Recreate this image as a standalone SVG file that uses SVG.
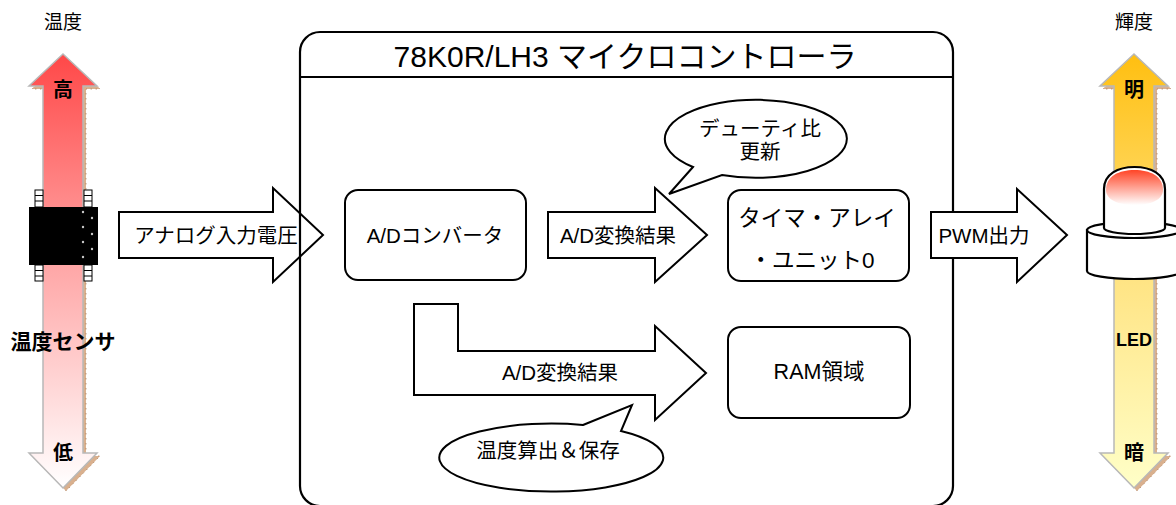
<svg xmlns="http://www.w3.org/2000/svg" width="1176" height="505" viewBox="0 0 1176 505">
  <defs>
    <linearGradient id="tempGrad" x1="0" y1="54" x2="0" y2="488" gradientUnits="userSpaceOnUse">
      <stop offset="0" stop-color="#ff4848"/>
      <stop offset="0.45" stop-color="#ffa0a0"/>
      <stop offset="1" stop-color="#ffffff"/>
    </linearGradient>
    <linearGradient id="lumGrad" x1="0" y1="54" x2="0" y2="488" gradientUnits="userSpaceOnUse">
      <stop offset="0" stop-color="#ffbf10"/>
      <stop offset="0.45" stop-color="#ffe07a"/>
      <stop offset="1" stop-color="#ffffc8"/>
    </linearGradient>
    <linearGradient id="domeGrad" x1="0" y1="168" x2="0" y2="205" gradientUnits="userSpaceOnUse">
      <stop offset="0" stop-color="#ff3a1a"/>
      <stop offset="1" stop-color="#ffffff"/>
    </linearGradient>
    <style>
      .box { fill: #ffffff; stroke: #000000; stroke-width: 2; }
      .frame { fill: none; stroke: #000000; stroke-width: 2.2; }
      .blk { fill: #ffffff; stroke: #000000; stroke-width: 2; stroke-linejoin: miter; }
      .scale { stroke: #b8b8b8; stroke-width: 1.5; }
      .shadow { fill: #d9b08e; stroke: #a97a55; stroke-width: 1; stroke-dasharray: 1 4; }
      .t { font-family: "Liberation Sans", "Noto Sans CJK JP", sans-serif; fill: #000000; text-anchor: middle; dominant-baseline: central; }
      .b { font-weight: bold; }
      .pin { fill: #ffffff; stroke: #000000; stroke-width: 1; }
      .dot { fill: #c8c8c8; }
    </style>
  </defs>

  <!-- temperature scale (left) -->
  <g id="temp-scale">
    <text class="t" x="63" y="22" font-size="19">温度</text>
    <path class="shadow" transform="translate(3,3)" d="M63,54 L97,86 L83,86 L83,453 L97,453 L63,488 L29,453 L43,453 L43,86 L29,86 Z"/>
    <path class="scale" fill="url(#tempGrad)" d="M63,54 L97,86 L83,86 L83,453 L97,453 L63,488 L29,453 L43,453 L43,86 L29,86 Z"/>
    <text class="t b" x="63" y="90" font-size="20">高</text>
    <text class="t b" x="63" y="453" font-size="20">低</text>
  </g>

  <!-- temperature sensor chip -->
  <g id="temp-sensor">
    <rect class="pin" x="35" y="190" width="8" height="17"/>
    <path d="M35,195.5 H43 M35,201 H43" stroke="#000" stroke-width="1"/>
    <rect class="pin" x="84" y="190" width="8" height="17"/>
    <path d="M84,195.5 H92 M84,201 H92" stroke="#000" stroke-width="1"/>
    <rect class="pin" x="35" y="265" width="8" height="16"/>
    <path d="M35,270.5 H43 M35,276 H43" stroke="#000" stroke-width="1"/>
    <rect class="pin" x="84" y="265" width="8" height="16"/>
    <path d="M84,270.5 H92 M84,276 H92" stroke="#000" stroke-width="1"/>
    <rect x="29" y="207" width="69" height="58" fill="#000000"/>
    <circle class="dot" cx="83" cy="212" r="1.2"/>
    <circle class="dot" cx="92" cy="218" r="1.2"/>
    <circle class="dot" cx="83" cy="227" r="1.2"/>
    <circle class="dot" cx="92" cy="234" r="1.2"/>
    <circle class="dot" cx="83" cy="242" r="1.2"/>
    <circle class="dot" cx="92" cy="249" r="1.2"/>
    <circle class="dot" cx="83" cy="257" r="1.2"/>
    <text class="t b" x="63" y="341" font-size="21">温度センサ</text>
  </g>

  <!-- luminance scale (right) -->
  <g id="lum-scale">
    <text class="t" x="1134" y="22" font-size="19">輝度</text>
    <path class="shadow" transform="translate(3,3)" d="M1134,54 L1168,86 L1154,86 L1154,453 L1168,453 L1134,488 L1100,453 L1114,453 L1114,86 L1100,86 Z"/>
    <path class="scale" fill="url(#lumGrad)" d="M1134,54 L1168,86 L1154,86 L1154,453 L1168,453 L1134,488 L1100,453 L1114,453 L1114,86 L1100,86 Z"/>
    <text class="t b" x="1134" y="90" font-size="20">明</text>
    <text class="t b" x="1134" y="340" font-size="18">LED</text>
    <text class="t b" x="1134" y="453" font-size="20">暗</text>
  </g>

  <!-- LED -->
  <g id="led" stroke="#000000" stroke-width="2.2">
    <path d="M1087,230 L1087,271 A47,8 0 0 0 1181,271 L1181,230 Z" fill="#ffffff"/>
    <ellipse cx="1134" cy="230" rx="47" ry="8" fill="#ffffff"/>
    <path d="M1104,228 L1104,189 C1104,174 1118,167 1134.5,167 C1151,167 1165,174 1165,189 L1165,228 A30.5,6 0 0 1 1104,228 Z" fill="#ffffff"/>
    <path d="M1106,190 C1106,176 1119,170 1134.5,170 C1150,170 1163,176 1163,190 C1163,200 1150,205 1134.5,205 C1119,205 1106,200 1106,190 Z" fill="url(#domeGrad)" stroke="none"/>
  </g>

  <!-- block-arrow connectors -->
  <g id="connectors">
    <g id="analog-in">
      <path class="blk" d="M119,212 L273,212 L273,188 L323,235 L273,282 L273,258 L119,258 Z"/>
      <text class="t" x="216" y="235" font-size="20.5">アナログ入力電圧</text>
    </g>
    <g id="ad-to-timer">
      <path class="blk" d="M548,212 L655,212 L655,188 L707,235 L655,282 L655,258 L548,258 Z"/>
      <text class="t" x="618" y="235" font-size="20.5">A/D変換結果</text>
    </g>
    <g id="ad-to-ram">
      <path class="blk" d="M414,304 L458,304 L458,351 L655,351 L655,326 L706,373 L655,420 L655,395 L414,395 Z"/>
      <text class="t" x="560" y="372" font-size="20.5">A/D変換結果</text>
    </g>
  </g>

  <!-- microcontroller frame -->
  <g id="mcu">
    <rect class="frame" x="300" y="32" width="653" height="474" rx="20" ry="20"/>
    <line x1="300" y1="77" x2="953" y2="77" stroke="#000000" stroke-width="2.2"/>
    <text class="t" x="625" y="56" font-size="30">78K0R/LH3 マイクロコントローラ</text>
  </g>

  <g id="pwm-out">
    <path class="blk" d="M931,212 L1017,212 L1017,189 L1067,235 L1017,282 L1017,258 L931,258 Z"/>
    <text class="t" x="984" y="235" font-size="20.5">PWM出力</text>
  </g>

  <g id="ad-converter">
    <rect class="box" x="345" y="190" width="181" height="90" rx="13"/>
    <text class="t" x="435" y="235" font-size="20.5">A/Dコンバータ</text>
  </g>

  <g id="timer-array">
    <rect class="box" x="728" y="190" width="181" height="91" rx="13"/>
    <text class="t" x="817" y="218" font-size="22.5">タイマ・アレイ</text>
    <text class="t" x="812" y="260" font-size="22.5">・ユニット0</text>
  </g>

  <g id="ram-area">
    <rect class="box" x="728" y="327" width="182" height="91" rx="13"/>
    <text class="t" x="819" y="372" font-size="21.5">RAM領域</text>
  </g>

  <g id="duty-note">
    <path class="box" d="M693,167 L669,194 L722,175 A91,39 0 1 0 693,167 Z"/>
    <text class="t" x="760" y="128" font-size="20.5">デューティ比</text>
    <text class="t" x="760" y="151" font-size="20.5">更新</text>
  </g>

  <g id="store-note">
    <path class="box" d="M583,425 L632,405 L621,431 A112,34 0 1 1 583,425 Z"/>
    <text class="t" x="548" y="450" font-size="20.5">温度算出＆保存</text>
  </g>
</svg>
